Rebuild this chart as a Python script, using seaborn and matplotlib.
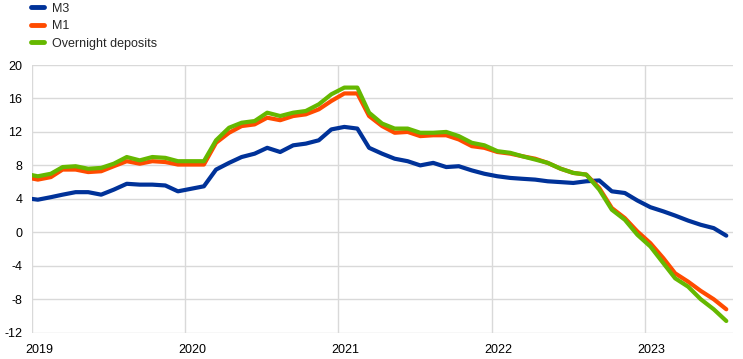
import pandas as pd
import matplotlib.pyplot as plt
import seaborn as sns

# monthly annual growth rates, Dec 2018 - Jul 2023 (percentages)
months = pd.date_range('2018-12-01', '2023-07-01', freq='MS') + pd.Timedelta(days=14)

m3 = [4.1,
      3.9, 4.2, 4.5, 4.8, 4.8, 4.5, 5.1, 5.8, 5.7, 5.7, 5.6, 4.9,
      5.2, 5.5, 7.5, 8.3, 9.0, 9.4, 10.1, 9.6, 10.4, 10.6, 11.0, 12.3,
      12.6, 12.4, 10.1, 9.4, 8.8, 8.5, 8.0, 8.3, 7.8, 7.9, 7.4, 7.0,
      6.7, 6.5, 6.4, 6.3, 6.1, 6.0, 5.9, 6.1, 6.2, 4.9, 4.7, 3.8,
      3.0, 2.5, 2.0, 1.4, 0.9, 0.5, -0.4]

m1 = [6.6,
      6.3, 6.6, 7.5, 7.5, 7.2, 7.3, 7.9, 8.5, 8.2, 8.5, 8.4, 8.1,
      8.1, 8.1, 10.7, 11.9, 12.7, 12.9, 13.7, 13.4, 13.9, 14.1, 14.7, 15.7,
      16.6, 16.6, 13.9, 12.7, 11.9, 12.0, 11.5, 11.6, 11.6, 11.1, 10.3, 10.1,
      9.6, 9.4, 9.1, 8.8, 8.3, 7.6, 7.1, 6.9, 5.3, 2.9, 1.7, 0.1,
      -1.3, -3.1, -4.9, -5.9, -7.0, -8.0, -9.2]

overnight = [7.0,
             6.7, 7.0, 7.8, 7.9, 7.6, 7.7, 8.2, 9.0, 8.6, 9.0, 8.9, 8.5,
             8.5, 8.5, 11.0, 12.5, 13.1, 13.3, 14.3, 13.9, 14.3, 14.5, 15.3, 16.5,
             17.3, 17.3, 14.3, 13.0, 12.4, 12.4, 11.9, 11.9, 12.0, 11.5, 10.7, 10.4,
             9.7, 9.5, 9.1, 8.7, 8.3, 7.6, 7.1, 6.9, 5.1, 2.7, 1.5, -0.3,
             -1.7, -3.7, -5.5, -6.5, -8.0, -9.2, -10.6]

series_names = ['M3', 'M1', 'Overnight deposits']
colors = ['#003299', '#FF4B00', '#65B800']
year_ticks = ['2019', '2020', '2021', '2022', '2023']
y_ticks = list(range(-12, 21, 4))

df = pd.concat([
    pd.DataFrame({'date': months, 'value': vals, 'series': name})
    for name, vals in zip(series_names, [m3, m1, overnight])
])

sns.set_style('white')
plt.rcParams['font.family'] = ['Liberation Sans', 'DejaVu Sans']

fig = plt.figure(figsize=(7.43, 3.59), dpi=100)
ax = fig.add_axes([32 / 743, 1 - 332.7 / 359, 701 / 743, 267.7 / 359])

sns.lineplot(data=df, x='date', y='value', hue='series', hue_order=series_names,
             palette=colors, linewidth=3, ax=ax, legend=True)

ax.set_xlim(pd.Timestamp('2019-01-01'), pd.Timestamp('2023-07-31'))
ax.set_ylim(-12, 20)
ax.set_yticks(y_ticks)
ax.set_yticklabels([str(v) for v in y_ticks])

# gridlines on Jan 1, labels sit a little to the right
year_starts = [pd.Timestamp(f'{y}-01-01') for y in year_ticks]
ax.set_xticks(year_starts)
ax.set_xticklabels([''] * len(year_starts))
ax.set_xticks([pd.Timestamp(f'{y}-01-18') for y in year_ticks], minor=True)
ax.set_xticklabels(year_ticks, minor=True)

ax.grid(True, which='major', color='#d9d9d9', linewidth=1)
ax.grid(False, which='minor')
for s in ax.spines.values():
    s.set_visible(False)
ax.tick_params(axis='both', which='both', length=0, labelsize=9, colors='black')
ax.tick_params(axis='y', pad=7)
ax.tick_params(axis='x', which='minor', pad=8)
ax.set_xlabel('')
ax.set_ylabel('')

handles, labels = ax.get_legend_handles_labels()
ax.legend_.remove()
leg = fig.legend(handles, labels, loc='upper left', bbox_to_anchor=(31 / 743, 1 - 2.5 / 359),
                 frameon=False, fontsize=9, handlelength=1.0, handletextpad=0.7,
                 labelspacing=0.45, borderpad=0, borderaxespad=0)
for line in leg.get_lines():
    line.set_linewidth(3.5)

fig.savefig('out.png', dpi=100)
